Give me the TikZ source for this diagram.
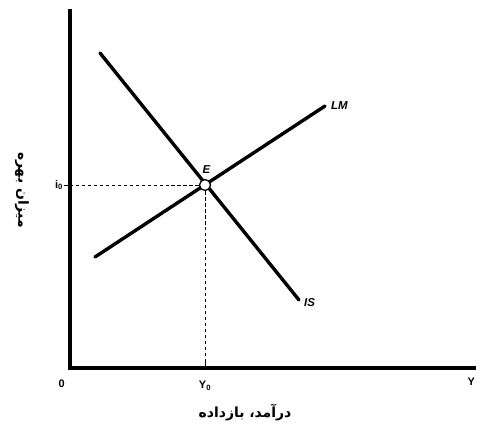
\documentclass[tikz,border=0pt]{standalone}
\usepackage{fontspec}
\setmainfont{Liberation Sans}
\newfontfamily\farsi[Script=Arabic]{DejaVu Sans}
\TeXXeTstate=1
\usetikzlibrary{positioning}
\tikzset{
  axisline/.style={line width=4.5pt,line join=miter},
  curveline/.style={line width=3.4pt,line cap=round},
  guide/.style={line width=0.7pt,dash pattern=on 3.5pt off 2.5pt},
  tickmark/.style={line width=0.8pt},
  point/.style={circle,draw,fill=white,line width=1.3pt,minimum size=11pt,inner sep=0pt},
  curvelabel/.style={font=\fontsize{11.5}{12}\selectfont\bfseries\itshape,inner sep=1pt},
  ticklabel/.style={font=\fontsize{11}{12}\selectfont\bfseries,inner sep=1pt},
  axislabel/.style={font=\farsi\fontsize{14}{16}\selectfont\bfseries,inner sep=1pt}
}
\begin{document}
\begin{tikzpicture}[x=1bp,y=-1bp]
  \useasboundingbox (0,0) rectangle (504,438);
  % axes
  \coordinate (top) at (70,9);
  \coordinate (O) at (70,368);
  \coordinate (right) at (476,368);
  \draw[axisline] (top) -- (O) -- (right);
  % IS and LM
  \coordinate (ISa) at (100,53);
  \coordinate (ISb) at (299,300);
  \coordinate (LMa) at (95,257);
  \coordinate (LMb) at (325,106);
  \draw[curveline] (ISa) -- (ISb);
  \draw[curveline] (LMa) -- (LMb);
  \node[curvelabel,right=5pt of LMb] (lm) {LM};
  \node[curvelabel,below right=-3pt and 4pt of ISb] (is) {IS};
  % equilibrium
  \node[point] (E) at (205,185) {};
  \node[curvelabel,above=4pt of E,xshift=1.5pt] (elab) {E};
  \coordinate (Ei) at (O |- E);
  \coordinate (EY) at (E |- O);
  \draw[guide] (E.west) -- (Ei);
  \draw[guide] (E.south) -- (EY);
  \draw[tickmark] ([xshift=-6pt]Ei) -- (Ei);
  \draw[tickmark] (EY) -- ([yshift=7pt]EY);
  % labels
  \node[ticklabel,left=6pt of Ei] (i0) {$\mathbf{i_0}$};
  \node[ticklabel,below=12pt of EY] (Y0) {$\mathbf{Y_0}$};
  \node[ticklabel,below left=11pt and 4pt of O] (zero) {0};
  \node[ticklabel,below left=9pt and 0pt of right] (Ylab) {Y};
  \node[axislabel] (xlab) at (245,413) {\beginR درآمد، بازداده\endR};
  \node[axislabel,rotate=-90] (ylab) at (22,190) {\beginR میزان بهره\endR};
\end{tikzpicture}
\end{document}
